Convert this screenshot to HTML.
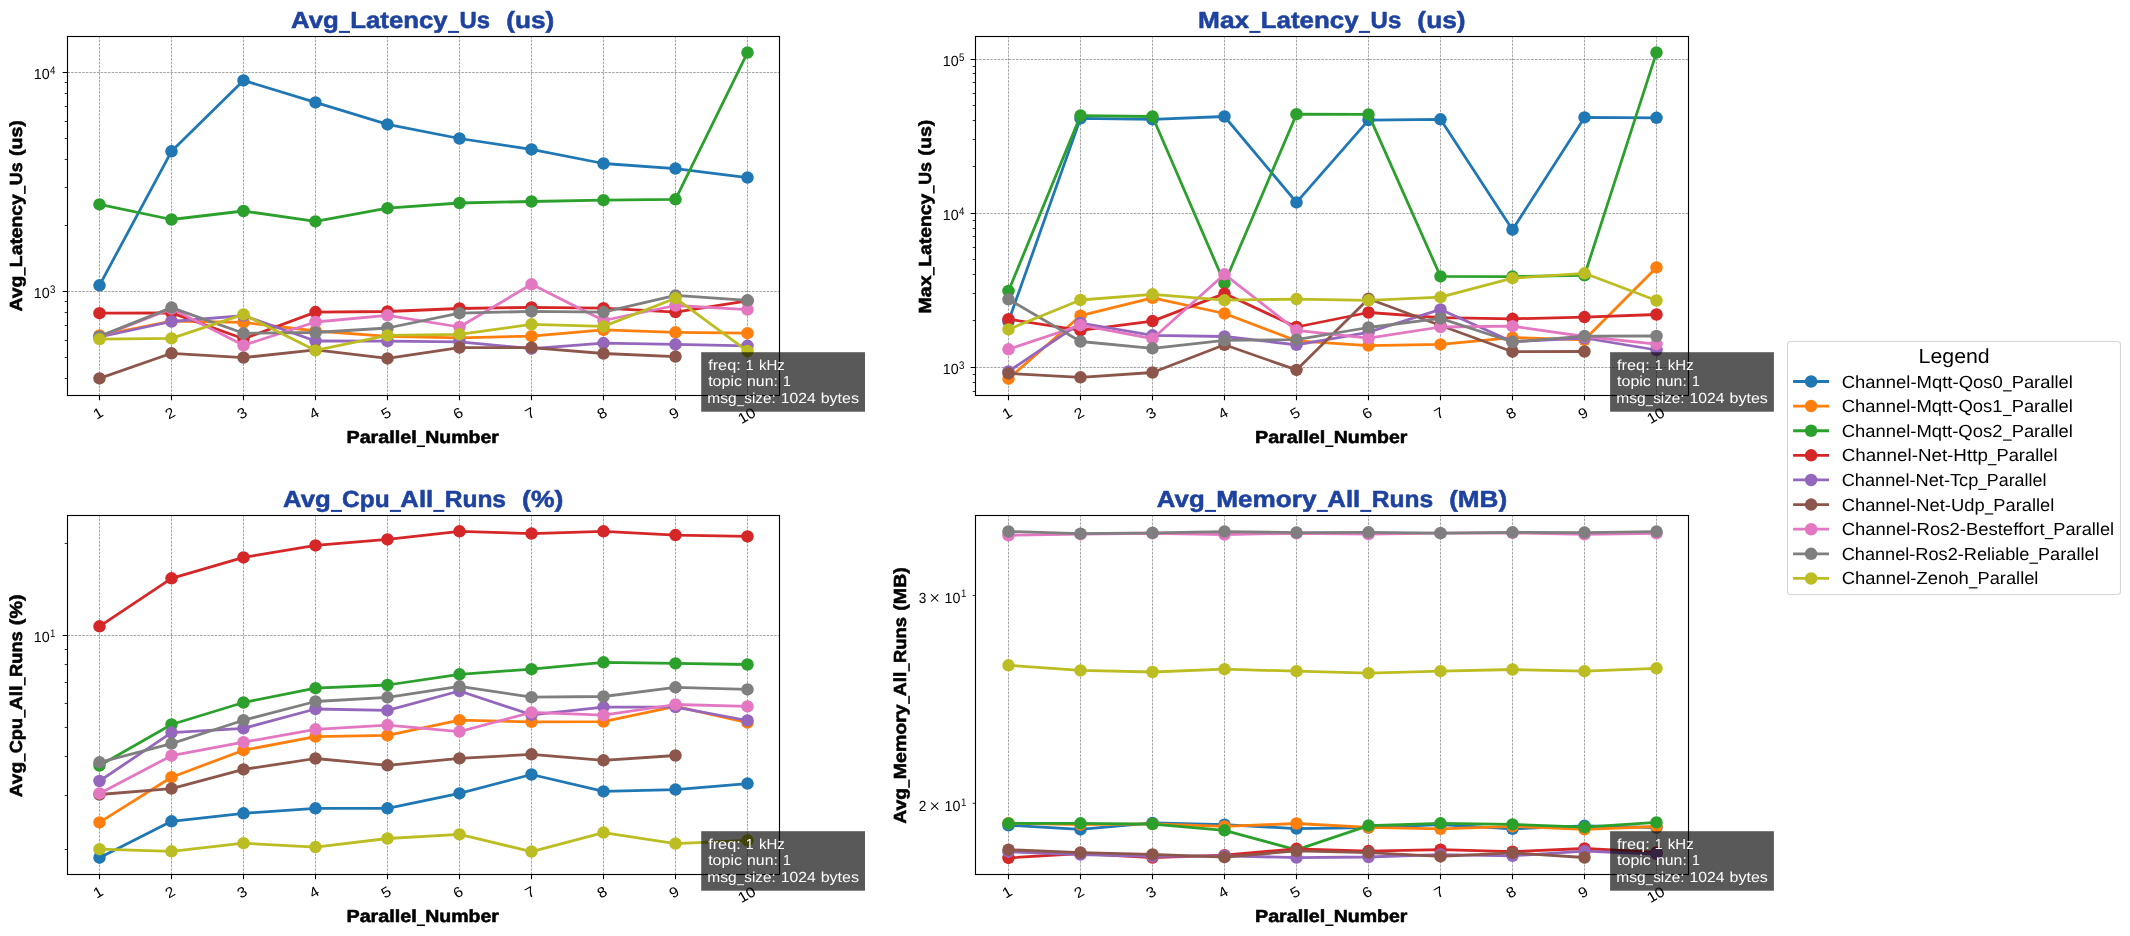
<!DOCTYPE html>
<html lang="en"><head><meta charset="utf-8"><title>Benchmark charts</title>
<style>html,body{margin:0;padding:0;background:#fff;}body{width:2130px;height:936px;overflow:hidden;font-family:"Liberation Sans", sans-serif;}svg{display:block;will-change:transform;}</style></head>
<body>
<svg width="2130" height="936" viewBox="0 0 2130 936" font-family='"Liberation Sans", sans-serif' text-rendering="geometricPrecision">
<rect width="2130" height="936" fill="#fff"/>
<g>
<clipPath id="c00"><rect x="67.5" y="36.5" width="712" height="359"/></clipPath>
<path d="M99.5 395.5V36.5M171.5 395.5V36.5M243.5 395.5V36.5M315.5 395.5V36.5M387.5 395.5V36.5M459.5 395.5V36.5M531.5 395.5V36.5M603.5 395.5V36.5M675.5 395.5V36.5M747.5 395.5V36.5M67.5 72.5H779.5M67.5 291.5H779.5" stroke="#808080" stroke-width="0.7" stroke-dasharray="2.57 1.11" fill="none"/>
<path d="M99.5 395.5v4.86M171.5 395.5v4.86M243.5 395.5v4.86M315.5 395.5v4.86M387.5 395.5v4.86M459.5 395.5v4.86M531.5 395.5v4.86M603.5 395.5v4.86M675.5 395.5v4.86M747.5 395.5v4.86M67.5 72.5h-4.86M67.5 291.5h-4.86" stroke="#000" stroke-width="1.11" fill="none"/>
<path d="M67.5 378.5h-2.78M67.5 357.5h-2.78M67.5 340.5h-2.78M67.5 325.5h-2.78M67.5 312.5h-2.78M67.5 301.5h-2.78M67.5 225.5h-2.78M67.5 187.5h-2.78M67.5 159.5h-2.78M67.5 138.5h-2.78M67.5 121.5h-2.78M67.5 106.5h-2.78M67.5 93.5h-2.78M67.5 82.5h-2.78" stroke="#000" stroke-width="0.83" fill="none"/>
<text x="98" y="413.2" font-size="14.6" text-anchor="middle" textLength="8.8" lengthAdjust="spacingAndGlyphs" dy="5.1" transform="rotate(-30 98 413.2)">1</text>
<text x="170" y="413.2" font-size="14.6" text-anchor="middle" textLength="8.8" lengthAdjust="spacingAndGlyphs" dy="5.1" transform="rotate(-30 170 413.2)">2</text>
<text x="242" y="413.2" font-size="14.6" text-anchor="middle" textLength="8.8" lengthAdjust="spacingAndGlyphs" dy="5.1" transform="rotate(-30 242 413.2)">3</text>
<text x="314" y="413.2" font-size="14.6" text-anchor="middle" textLength="8.8" lengthAdjust="spacingAndGlyphs" dy="5.1" transform="rotate(-30 314 413.2)">4</text>
<text x="386" y="413.2" font-size="14.6" text-anchor="middle" textLength="8.8" lengthAdjust="spacingAndGlyphs" dy="5.1" transform="rotate(-30 386 413.2)">5</text>
<text x="458" y="413.2" font-size="14.6" text-anchor="middle" textLength="8.8" lengthAdjust="spacingAndGlyphs" dy="5.1" transform="rotate(-30 458 413.2)">6</text>
<text x="530" y="413.2" font-size="14.6" text-anchor="middle" textLength="8.8" lengthAdjust="spacingAndGlyphs" dy="5.1" transform="rotate(-30 530 413.2)">7</text>
<text x="602" y="413.2" font-size="14.6" text-anchor="middle" textLength="8.8" lengthAdjust="spacingAndGlyphs" dy="5.1" transform="rotate(-30 602 413.2)">8</text>
<text x="674" y="413.2" font-size="14.6" text-anchor="middle" textLength="8.8" lengthAdjust="spacingAndGlyphs" dy="5.1" transform="rotate(-30 674 413.2)">9</text>
<text x="746.7" y="415.5" font-size="14.6" text-anchor="middle" textLength="17.6" lengthAdjust="spacingAndGlyphs" dy="5.1" transform="rotate(-30 746.7 415.5)">10</text>
<text x="50" y="73.6" font-size="11" text-anchor="start" font-weight="normal" fill="#000" textLength="5.4" lengthAdjust="spacingAndGlyphs">4</text>
<text x="33.7" y="78.8" font-size="14.6" text-anchor="start" font-weight="normal" fill="#000" textLength="15.9" lengthAdjust="spacingAndGlyphs">10</text>
<text x="50" y="292.6" font-size="11" text-anchor="start" font-weight="normal" fill="#000" textLength="5.4" lengthAdjust="spacingAndGlyphs">3</text>
<text x="33.7" y="297.8" font-size="14.6" text-anchor="start" font-weight="normal" fill="#000" textLength="15.9" lengthAdjust="spacingAndGlyphs">10</text>
<g clip-path="url(#c00)">
<polyline points="99.5,285.3 171.5,151.3 243.5,80.4 315.5,102.4 387.5,124.4 459.5,138.5 531.5,149.4 603.5,163.5 675.5,168.6 747.5,177.6" fill="none" stroke="#1f77b4" stroke-width="2.78" stroke-linejoin="round" stroke-linecap="butt"/>
<g fill="#1f77b4"><circle cx="99.5" cy="285.3" r="6.25"/><circle cx="171.5" cy="151.3" r="6.25"/><circle cx="243.5" cy="80.4" r="6.25"/><circle cx="315.5" cy="102.4" r="6.25"/><circle cx="387.5" cy="124.4" r="6.25"/><circle cx="459.5" cy="138.5" r="6.25"/><circle cx="531.5" cy="149.4" r="6.25"/><circle cx="603.5" cy="163.5" r="6.25"/><circle cx="675.5" cy="168.6" r="6.25"/><circle cx="747.5" cy="177.6" r="6.25"/></g>
<polyline points="99.5,335.5 171.5,321.1 243.5,322.4 315.5,331 387.5,336.4 459.5,337.8 531.5,336.2 603.5,329.9 675.5,332.3 747.5,333.2" fill="none" stroke="#ff7f0e" stroke-width="2.78" stroke-linejoin="round" stroke-linecap="butt"/>
<g fill="#ff7f0e"><circle cx="99.5" cy="335.5" r="6.25"/><circle cx="171.5" cy="321.1" r="6.25"/><circle cx="243.5" cy="322.4" r="6.25"/><circle cx="315.5" cy="331" r="6.25"/><circle cx="387.5" cy="336.4" r="6.25"/><circle cx="459.5" cy="337.8" r="6.25"/><circle cx="531.5" cy="336.2" r="6.25"/><circle cx="603.5" cy="329.9" r="6.25"/><circle cx="675.5" cy="332.3" r="6.25"/><circle cx="747.5" cy="333.2" r="6.25"/></g>
<polyline points="99.5,204.4 171.5,219.5 243.5,211 315.5,221.4 387.5,208.2 459.5,203 531.5,201.5 603.5,200.2 675.5,199.3 747.5,52.6" fill="none" stroke="#2ca02c" stroke-width="2.78" stroke-linejoin="round" stroke-linecap="butt"/>
<g fill="#2ca02c"><circle cx="99.5" cy="204.4" r="6.25"/><circle cx="171.5" cy="219.5" r="6.25"/><circle cx="243.5" cy="211" r="6.25"/><circle cx="315.5" cy="221.4" r="6.25"/><circle cx="387.5" cy="208.2" r="6.25"/><circle cx="459.5" cy="203" r="6.25"/><circle cx="531.5" cy="201.5" r="6.25"/><circle cx="603.5" cy="200.2" r="6.25"/><circle cx="675.5" cy="199.3" r="6.25"/><circle cx="747.5" cy="52.6" r="6.25"/></g>
<polyline points="99.5,313.2 171.5,312.9 243.5,338.8 315.5,312.1 387.5,311.5 459.5,308.5 531.5,307.4 603.5,308.2 675.5,312.1 747.5,300.8" fill="none" stroke="#d62728" stroke-width="2.78" stroke-linejoin="round" stroke-linecap="butt"/>
<g fill="#d62728"><circle cx="99.5" cy="313.2" r="6.25"/><circle cx="171.5" cy="312.9" r="6.25"/><circle cx="243.5" cy="338.8" r="6.25"/><circle cx="315.5" cy="312.1" r="6.25"/><circle cx="387.5" cy="311.5" r="6.25"/><circle cx="459.5" cy="308.5" r="6.25"/><circle cx="531.5" cy="307.4" r="6.25"/><circle cx="603.5" cy="308.2" r="6.25"/><circle cx="675.5" cy="312.1" r="6.25"/><circle cx="747.5" cy="300.8" r="6.25"/></g>
<polyline points="99.5,337 171.5,321.5 243.5,315.6 315.5,341 387.5,341.2 459.5,341.8 531.5,348.7 603.5,343.1 675.5,344.3 747.5,345.8" fill="none" stroke="#9467bd" stroke-width="2.78" stroke-linejoin="round" stroke-linecap="butt"/>
<g fill="#9467bd"><circle cx="99.5" cy="337" r="6.25"/><circle cx="171.5" cy="321.5" r="6.25"/><circle cx="243.5" cy="315.6" r="6.25"/><circle cx="315.5" cy="341" r="6.25"/><circle cx="387.5" cy="341.2" r="6.25"/><circle cx="459.5" cy="341.8" r="6.25"/><circle cx="531.5" cy="348.7" r="6.25"/><circle cx="603.5" cy="343.1" r="6.25"/><circle cx="675.5" cy="344.3" r="6.25"/><circle cx="747.5" cy="345.8" r="6.25"/></g>
<polyline points="99.5,378.4 171.5,353.3 243.5,357.6 315.5,349.9 387.5,358.4 459.5,347.6 531.5,347.6 603.5,353.5 675.5,356.6" fill="none" stroke="#8c564b" stroke-width="2.78" stroke-linejoin="round" stroke-linecap="butt"/>
<g fill="#8c564b"><circle cx="99.5" cy="378.4" r="6.25"/><circle cx="171.5" cy="353.3" r="6.25"/><circle cx="243.5" cy="357.6" r="6.25"/><circle cx="315.5" cy="349.9" r="6.25"/><circle cx="387.5" cy="358.4" r="6.25"/><circle cx="459.5" cy="347.6" r="6.25"/><circle cx="531.5" cy="347.6" r="6.25"/><circle cx="603.5" cy="353.5" r="6.25"/><circle cx="675.5" cy="356.6" r="6.25"/></g>
<polyline points="99.5,337 171.5,308.6 243.5,345.3 315.5,322 387.5,315.3 459.5,327 531.5,284.3 603.5,320.5 675.5,305.5 747.5,309.6" fill="none" stroke="#e377c2" stroke-width="2.78" stroke-linejoin="round" stroke-linecap="butt"/>
<g fill="#e377c2"><circle cx="99.5" cy="337" r="6.25"/><circle cx="171.5" cy="308.6" r="6.25"/><circle cx="243.5" cy="345.3" r="6.25"/><circle cx="315.5" cy="322" r="6.25"/><circle cx="387.5" cy="315.3" r="6.25"/><circle cx="459.5" cy="327" r="6.25"/><circle cx="531.5" cy="284.3" r="6.25"/><circle cx="603.5" cy="320.5" r="6.25"/><circle cx="675.5" cy="305.5" r="6.25"/><circle cx="747.5" cy="309.6" r="6.25"/></g>
<polyline points="99.5,336.4 171.5,307.6 243.5,333.3 315.5,332.5 387.5,328 459.5,313.2 531.5,311.4 603.5,312.1 675.5,295.4 747.5,300.3" fill="none" stroke="#7f7f7f" stroke-width="2.78" stroke-linejoin="round" stroke-linecap="butt"/>
<g fill="#7f7f7f"><circle cx="99.5" cy="336.4" r="6.25"/><circle cx="171.5" cy="307.6" r="6.25"/><circle cx="243.5" cy="333.3" r="6.25"/><circle cx="315.5" cy="332.5" r="6.25"/><circle cx="387.5" cy="328" r="6.25"/><circle cx="459.5" cy="313.2" r="6.25"/><circle cx="531.5" cy="311.4" r="6.25"/><circle cx="603.5" cy="312.1" r="6.25"/><circle cx="675.5" cy="295.4" r="6.25"/><circle cx="747.5" cy="300.3" r="6.25"/></g>
<polyline points="99.5,339.2 171.5,338.4 243.5,314.4 315.5,350.4 387.5,335.4 459.5,334.3 531.5,324.3 603.5,326.4 675.5,298.2 747.5,351.1" fill="none" stroke="#bcbd22" stroke-width="2.78" stroke-linejoin="round" stroke-linecap="butt"/>
<g fill="#bcbd22"><circle cx="99.5" cy="339.2" r="6.25"/><circle cx="171.5" cy="338.4" r="6.25"/><circle cx="243.5" cy="314.4" r="6.25"/><circle cx="315.5" cy="350.4" r="6.25"/><circle cx="387.5" cy="335.4" r="6.25"/><circle cx="459.5" cy="334.3" r="6.25"/><circle cx="531.5" cy="324.3" r="6.25"/><circle cx="603.5" cy="326.4" r="6.25"/><circle cx="675.5" cy="298.2" r="6.25"/><circle cx="747.5" cy="351.1" r="6.25"/></g>
</g>
<rect x="67.5" y="36.5" width="712" height="359" fill="none" stroke="#000" stroke-width="1.11"/>
<rect x="338.91" y="30.88" width="11.07" height="2.06" fill="#1e429f"/><rect x="447.97" y="30.88" width="11.07" height="2.06" fill="#1e429f"/><g font-size="23.33" font-weight="bold" fill="#1e429f" stroke="#1e429f" stroke-width="0.55" stroke-linejoin="round"><text x="290.97" y="27.7" textLength="47.78" lengthAdjust="spacingAndGlyphs">Avg</text><text x="350.29" y="27.7" textLength="97.41" lengthAdjust="spacingAndGlyphs">Latency</text><text x="459.64" y="27.7" textLength="30.49" lengthAdjust="spacingAndGlyphs">Us</text><text x="506.22" y="27.7" textLength="47.99" lengthAdjust="spacingAndGlyphs">(us)</text></g>
<rect x="416.74" y="445.48" width="8.23" height="1.55" fill="#000"/><g font-size="17.5" font-weight="bold" fill="#000" stroke="#000" stroke-width="0.55" stroke-linejoin="round"><text x="346.48" y="443.1" textLength="70.28" lengthAdjust="spacingAndGlyphs">Parallel</text><text x="425.18" y="443.1" textLength="73.72" lengthAdjust="spacingAndGlyphs">Number</text></g>
<g transform="translate(21.7 311.1) rotate(-90)"><rect x="35.45" y="2.38" width="8.3" height="1.55" fill="#000"/><rect x="117.16" y="2.38" width="8.3" height="1.55" fill="#000"/><g font-size="17.5" font-weight="bold" fill="#000" stroke="#000" stroke-width="0.55" stroke-linejoin="round"><text x="-0.47" y="0" textLength="35.8" lengthAdjust="spacingAndGlyphs">Avg</text><text x="43.98" y="0" textLength="72.98" lengthAdjust="spacingAndGlyphs">Latency</text><text x="125.9" y="0" textLength="22.84" lengthAdjust="spacingAndGlyphs">Us</text><text x="155.02" y="0" textLength="35.95" lengthAdjust="spacingAndGlyphs">(us)</text></g></g>
</g>
<g>
<clipPath id="c10"><rect x="975.5" y="36.5" width="713" height="359"/></clipPath>
<path d="M1008.5 395.5V36.5M1080.5 395.5V36.5M1152.5 395.5V36.5M1224.5 395.5V36.5M1296.5 395.5V36.5M1368.5 395.5V36.5M1440.5 395.5V36.5M1512.5 395.5V36.5M1584.5 395.5V36.5M1656.5 395.5V36.5M975.5 59.5H1688.5M975.5 213.5H1688.5M975.5 367.5H1688.5" stroke="#808080" stroke-width="0.7" stroke-dasharray="2.57 1.11" fill="none"/>
<path d="M1008.5 395.5v4.86M1080.5 395.5v4.86M1152.5 395.5v4.86M1224.5 395.5v4.86M1296.5 395.5v4.86M1368.5 395.5v4.86M1440.5 395.5v4.86M1512.5 395.5v4.86M1584.5 395.5v4.86M1656.5 395.5v4.86M975.5 59.5h-4.86M975.5 213.5h-4.86M975.5 367.5h-4.86" stroke="#000" stroke-width="1.11" fill="none"/>
<path d="M975.5 391.5h-2.78M975.5 382.5h-2.78M975.5 374.5h-2.78M975.5 320.5h-2.78M975.5 293.5h-2.78M975.5 274.5h-2.78M975.5 259.5h-2.78M975.5 247.5h-2.78M975.5 236.5h-2.78M975.5 228.5h-2.78M975.5 220.5h-2.78M975.5 166.5h-2.78M975.5 139.5h-2.78M975.5 120.5h-2.78M975.5 105.5h-2.78M975.5 93.5h-2.78M975.5 82.5h-2.78M975.5 73.5h-2.78M975.5 66.5h-2.78" stroke="#000" stroke-width="0.83" fill="none"/>
<text x="1007" y="413.2" font-size="14.6" text-anchor="middle" textLength="8.8" lengthAdjust="spacingAndGlyphs" dy="5.1" transform="rotate(-30 1007 413.2)">1</text>
<text x="1079" y="413.2" font-size="14.6" text-anchor="middle" textLength="8.8" lengthAdjust="spacingAndGlyphs" dy="5.1" transform="rotate(-30 1079 413.2)">2</text>
<text x="1151" y="413.2" font-size="14.6" text-anchor="middle" textLength="8.8" lengthAdjust="spacingAndGlyphs" dy="5.1" transform="rotate(-30 1151 413.2)">3</text>
<text x="1223" y="413.2" font-size="14.6" text-anchor="middle" textLength="8.8" lengthAdjust="spacingAndGlyphs" dy="5.1" transform="rotate(-30 1223 413.2)">4</text>
<text x="1295" y="413.2" font-size="14.6" text-anchor="middle" textLength="8.8" lengthAdjust="spacingAndGlyphs" dy="5.1" transform="rotate(-30 1295 413.2)">5</text>
<text x="1367" y="413.2" font-size="14.6" text-anchor="middle" textLength="8.8" lengthAdjust="spacingAndGlyphs" dy="5.1" transform="rotate(-30 1367 413.2)">6</text>
<text x="1439" y="413.2" font-size="14.6" text-anchor="middle" textLength="8.8" lengthAdjust="spacingAndGlyphs" dy="5.1" transform="rotate(-30 1439 413.2)">7</text>
<text x="1511" y="413.2" font-size="14.6" text-anchor="middle" textLength="8.8" lengthAdjust="spacingAndGlyphs" dy="5.1" transform="rotate(-30 1511 413.2)">8</text>
<text x="1583" y="413.2" font-size="14.6" text-anchor="middle" textLength="8.8" lengthAdjust="spacingAndGlyphs" dy="5.1" transform="rotate(-30 1583 413.2)">9</text>
<text x="1655.7" y="415.5" font-size="14.6" text-anchor="middle" textLength="17.6" lengthAdjust="spacingAndGlyphs" dy="5.1" transform="rotate(-30 1655.7 415.5)">10</text>
<text x="959" y="60.6" font-size="11" text-anchor="start" font-weight="normal" fill="#000" textLength="5.4" lengthAdjust="spacingAndGlyphs">5</text>
<text x="942.7" y="65.8" font-size="14.6" text-anchor="start" font-weight="normal" fill="#000" textLength="15.9" lengthAdjust="spacingAndGlyphs">10</text>
<text x="959" y="214.6" font-size="11" text-anchor="start" font-weight="normal" fill="#000" textLength="5.4" lengthAdjust="spacingAndGlyphs">4</text>
<text x="942.7" y="219.8" font-size="14.6" text-anchor="start" font-weight="normal" fill="#000" textLength="15.9" lengthAdjust="spacingAndGlyphs">10</text>
<text x="959" y="368.6" font-size="11" text-anchor="start" font-weight="normal" fill="#000" textLength="5.4" lengthAdjust="spacingAndGlyphs">3</text>
<text x="942.7" y="373.8" font-size="14.6" text-anchor="start" font-weight="normal" fill="#000" textLength="15.9" lengthAdjust="spacingAndGlyphs">10</text>
<g clip-path="url(#c10)">
<polyline points="1008.5,321.3 1080.5,118.4 1152.5,119.3 1224.5,116.5 1296.5,202.4 1368.5,120.1 1440.5,119.3 1512.5,229.7 1584.5,117.4 1656.5,117.8" fill="none" stroke="#1f77b4" stroke-width="2.78" stroke-linejoin="round" stroke-linecap="butt"/>
<g fill="#1f77b4"><circle cx="1008.5" cy="321.3" r="6.25"/><circle cx="1080.5" cy="118.4" r="6.25"/><circle cx="1152.5" cy="119.3" r="6.25"/><circle cx="1224.5" cy="116.5" r="6.25"/><circle cx="1296.5" cy="202.4" r="6.25"/><circle cx="1368.5" cy="120.1" r="6.25"/><circle cx="1440.5" cy="119.3" r="6.25"/><circle cx="1512.5" cy="229.7" r="6.25"/><circle cx="1584.5" cy="117.4" r="6.25"/><circle cx="1656.5" cy="117.8" r="6.25"/></g>
<polyline points="1008.5,378.7 1080.5,315.7 1152.5,297.8 1224.5,313.5 1296.5,340.8 1368.5,345.6 1440.5,344.4 1512.5,337.6 1584.5,339.8 1656.5,267.4" fill="none" stroke="#ff7f0e" stroke-width="2.78" stroke-linejoin="round" stroke-linecap="butt"/>
<g fill="#ff7f0e"><circle cx="1008.5" cy="378.7" r="6.25"/><circle cx="1080.5" cy="315.7" r="6.25"/><circle cx="1152.5" cy="297.8" r="6.25"/><circle cx="1224.5" cy="313.5" r="6.25"/><circle cx="1296.5" cy="340.8" r="6.25"/><circle cx="1368.5" cy="345.6" r="6.25"/><circle cx="1440.5" cy="344.4" r="6.25"/><circle cx="1512.5" cy="337.6" r="6.25"/><circle cx="1584.5" cy="339.8" r="6.25"/><circle cx="1656.5" cy="267.4" r="6.25"/></g>
<polyline points="1008.5,291 1080.5,115.6 1152.5,116.5 1224.5,283.2 1296.5,114.2 1368.5,114.4 1440.5,276.4 1512.5,276.6 1584.5,275.3 1656.5,52.6" fill="none" stroke="#2ca02c" stroke-width="2.78" stroke-linejoin="round" stroke-linecap="butt"/>
<g fill="#2ca02c"><circle cx="1008.5" cy="291" r="6.25"/><circle cx="1080.5" cy="115.6" r="6.25"/><circle cx="1152.5" cy="116.5" r="6.25"/><circle cx="1224.5" cy="283.2" r="6.25"/><circle cx="1296.5" cy="114.2" r="6.25"/><circle cx="1368.5" cy="114.4" r="6.25"/><circle cx="1440.5" cy="276.4" r="6.25"/><circle cx="1512.5" cy="276.6" r="6.25"/><circle cx="1584.5" cy="275.3" r="6.25"/><circle cx="1656.5" cy="52.6" r="6.25"/></g>
<polyline points="1008.5,319.2 1080.5,330.3 1152.5,321.1 1224.5,293.6 1296.5,327 1368.5,312.5 1440.5,317.6 1512.5,318.8 1584.5,317.1 1656.5,314.5" fill="none" stroke="#d62728" stroke-width="2.78" stroke-linejoin="round" stroke-linecap="butt"/>
<g fill="#d62728"><circle cx="1008.5" cy="319.2" r="6.25"/><circle cx="1080.5" cy="330.3" r="6.25"/><circle cx="1152.5" cy="321.1" r="6.25"/><circle cx="1224.5" cy="293.6" r="6.25"/><circle cx="1296.5" cy="327" r="6.25"/><circle cx="1368.5" cy="312.5" r="6.25"/><circle cx="1440.5" cy="317.6" r="6.25"/><circle cx="1512.5" cy="318.8" r="6.25"/><circle cx="1584.5" cy="317.1" r="6.25"/><circle cx="1656.5" cy="314.5" r="6.25"/></g>
<polyline points="1008.5,371.4 1080.5,323 1152.5,335.3 1224.5,336.5 1296.5,344.8 1368.5,332.3 1440.5,309.4 1512.5,341.7 1584.5,338 1656.5,350" fill="none" stroke="#9467bd" stroke-width="2.78" stroke-linejoin="round" stroke-linecap="butt"/>
<g fill="#9467bd"><circle cx="1008.5" cy="371.4" r="6.25"/><circle cx="1080.5" cy="323" r="6.25"/><circle cx="1152.5" cy="335.3" r="6.25"/><circle cx="1224.5" cy="336.5" r="6.25"/><circle cx="1296.5" cy="344.8" r="6.25"/><circle cx="1368.5" cy="332.3" r="6.25"/><circle cx="1440.5" cy="309.4" r="6.25"/><circle cx="1512.5" cy="341.7" r="6.25"/><circle cx="1584.5" cy="338" r="6.25"/><circle cx="1656.5" cy="350" r="6.25"/></g>
<polyline points="1008.5,373.4 1080.5,377.3 1152.5,372.5 1224.5,344.8 1296.5,369.9 1368.5,298.8 1440.5,325.5 1512.5,351.7 1584.5,351.5" fill="none" stroke="#8c564b" stroke-width="2.78" stroke-linejoin="round" stroke-linecap="butt"/>
<g fill="#8c564b"><circle cx="1008.5" cy="373.4" r="6.25"/><circle cx="1080.5" cy="377.3" r="6.25"/><circle cx="1152.5" cy="372.5" r="6.25"/><circle cx="1224.5" cy="344.8" r="6.25"/><circle cx="1296.5" cy="369.9" r="6.25"/><circle cx="1368.5" cy="298.8" r="6.25"/><circle cx="1440.5" cy="325.5" r="6.25"/><circle cx="1512.5" cy="351.7" r="6.25"/><circle cx="1584.5" cy="351.5" r="6.25"/></g>
<polyline points="1008.5,349.3 1080.5,325.2 1152.5,338.7 1224.5,274.3 1296.5,330.3 1368.5,338.2 1440.5,327 1512.5,326.2 1584.5,336.5 1656.5,344.1" fill="none" stroke="#e377c2" stroke-width="2.78" stroke-linejoin="round" stroke-linecap="butt"/>
<g fill="#e377c2"><circle cx="1008.5" cy="349.3" r="6.25"/><circle cx="1080.5" cy="325.2" r="6.25"/><circle cx="1152.5" cy="338.7" r="6.25"/><circle cx="1224.5" cy="274.3" r="6.25"/><circle cx="1296.5" cy="330.3" r="6.25"/><circle cx="1368.5" cy="338.2" r="6.25"/><circle cx="1440.5" cy="327" r="6.25"/><circle cx="1512.5" cy="326.2" r="6.25"/><circle cx="1584.5" cy="336.5" r="6.25"/><circle cx="1656.5" cy="344.1" r="6.25"/></g>
<polyline points="1008.5,299.3 1080.5,341.5 1152.5,348.3 1224.5,340.3 1296.5,339.7 1368.5,327.5 1440.5,318.4 1512.5,342 1584.5,336.1 1656.5,336" fill="none" stroke="#7f7f7f" stroke-width="2.78" stroke-linejoin="round" stroke-linecap="butt"/>
<g fill="#7f7f7f"><circle cx="1008.5" cy="299.3" r="6.25"/><circle cx="1080.5" cy="341.5" r="6.25"/><circle cx="1152.5" cy="348.3" r="6.25"/><circle cx="1224.5" cy="340.3" r="6.25"/><circle cx="1296.5" cy="339.7" r="6.25"/><circle cx="1368.5" cy="327.5" r="6.25"/><circle cx="1440.5" cy="318.4" r="6.25"/><circle cx="1512.5" cy="342" r="6.25"/><circle cx="1584.5" cy="336.1" r="6.25"/><circle cx="1656.5" cy="336" r="6.25"/></g>
<polyline points="1008.5,329.4 1080.5,300 1152.5,294.3 1224.5,300.2 1296.5,299.1 1368.5,300.3 1440.5,297.2 1512.5,278.2 1584.5,273.3 1656.5,300.5" fill="none" stroke="#bcbd22" stroke-width="2.78" stroke-linejoin="round" stroke-linecap="butt"/>
<g fill="#bcbd22"><circle cx="1008.5" cy="329.4" r="6.25"/><circle cx="1080.5" cy="300" r="6.25"/><circle cx="1152.5" cy="294.3" r="6.25"/><circle cx="1224.5" cy="300.2" r="6.25"/><circle cx="1296.5" cy="299.1" r="6.25"/><circle cx="1368.5" cy="300.3" r="6.25"/><circle cx="1440.5" cy="297.2" r="6.25"/><circle cx="1512.5" cy="278.2" r="6.25"/><circle cx="1584.5" cy="273.3" r="6.25"/><circle cx="1656.5" cy="300.5" r="6.25"/></g>
</g>
<rect x="975.5" y="36.5" width="713" height="359" fill="none" stroke="#000" stroke-width="1.11"/>
<rect x="1249.27" y="30.88" width="11.13" height="2.06" fill="#1e429f"/><rect x="1358.85" y="30.88" width="11.13" height="2.06" fill="#1e429f"/><g font-size="23.33" font-weight="bold" fill="#1e429f" stroke="#1e429f" stroke-width="0.55" stroke-linejoin="round"><text x="1198.04" y="27.7" textLength="51.08" lengthAdjust="spacingAndGlyphs">Max</text><text x="1260.7" y="27.7" textLength="97.89" lengthAdjust="spacingAndGlyphs">Latency</text><text x="1370.58" y="27.7" textLength="30.64" lengthAdjust="spacingAndGlyphs">Us</text><text x="1417.39" y="27.7" textLength="48.22" lengthAdjust="spacingAndGlyphs">(us)</text></g>
<rect x="1325.24" y="445.48" width="8.23" height="1.55" fill="#000"/><g font-size="17.5" font-weight="bold" fill="#000" stroke="#000" stroke-width="0.55" stroke-linejoin="round"><text x="1254.98" y="443.1" textLength="70.28" lengthAdjust="spacingAndGlyphs">Parallel</text><text x="1333.68" y="443.1" textLength="73.72" lengthAdjust="spacingAndGlyphs">Number</text></g>
<g transform="translate(930.7 312.3) rotate(-90)"><rect x="36.93" y="2.38" width="8.31" height="1.55" fill="#000"/><rect x="118.75" y="2.38" width="8.31" height="1.55" fill="#000"/><g font-size="17.5" font-weight="bold" fill="#000" stroke="#000" stroke-width="0.55" stroke-linejoin="round"><text x="-1.31" y="0" textLength="38.14" lengthAdjust="spacingAndGlyphs">Max</text><text x="45.47" y="0" textLength="73.09" lengthAdjust="spacingAndGlyphs">Latency</text><text x="127.51" y="0" textLength="22.88" lengthAdjust="spacingAndGlyphs">Us</text><text x="156.67" y="0" textLength="36" lengthAdjust="spacingAndGlyphs">(us)</text></g></g>
</g>
<g>
<clipPath id="c01"><rect x="67.5" y="515.5" width="712" height="359"/></clipPath>
<path d="M99.5 874.5V515.5M171.5 874.5V515.5M243.5 874.5V515.5M315.5 874.5V515.5M387.5 874.5V515.5M459.5 874.5V515.5M531.5 874.5V515.5M603.5 874.5V515.5M675.5 874.5V515.5M747.5 874.5V515.5M67.5 635.5H779.5" stroke="#808080" stroke-width="0.7" stroke-dasharray="2.57 1.11" fill="none"/>
<path d="M99.5 874.5v4.86M171.5 874.5v4.86M243.5 874.5v4.86M315.5 874.5v4.86M387.5 874.5v4.86M459.5 874.5v4.86M531.5 874.5v4.86M603.5 874.5v4.86M675.5 874.5v4.86M747.5 874.5v4.86M67.5 635.5h-4.86" stroke="#000" stroke-width="1.11" fill="none"/>
<path d="M67.5 849.5h-2.78M67.5 795.5h-2.78M67.5 756.5h-2.78M67.5 727.5h-2.78M67.5 703.5h-2.78M67.5 682.5h-2.78M67.5 664.5h-2.78M67.5 649.5h-2.78M67.5 543.5h-2.78" stroke="#000" stroke-width="0.83" fill="none"/>
<text x="98" y="892.2" font-size="14.6" text-anchor="middle" textLength="8.8" lengthAdjust="spacingAndGlyphs" dy="5.1" transform="rotate(-30 98 892.2)">1</text>
<text x="170" y="892.2" font-size="14.6" text-anchor="middle" textLength="8.8" lengthAdjust="spacingAndGlyphs" dy="5.1" transform="rotate(-30 170 892.2)">2</text>
<text x="242" y="892.2" font-size="14.6" text-anchor="middle" textLength="8.8" lengthAdjust="spacingAndGlyphs" dy="5.1" transform="rotate(-30 242 892.2)">3</text>
<text x="314" y="892.2" font-size="14.6" text-anchor="middle" textLength="8.8" lengthAdjust="spacingAndGlyphs" dy="5.1" transform="rotate(-30 314 892.2)">4</text>
<text x="386" y="892.2" font-size="14.6" text-anchor="middle" textLength="8.8" lengthAdjust="spacingAndGlyphs" dy="5.1" transform="rotate(-30 386 892.2)">5</text>
<text x="458" y="892.2" font-size="14.6" text-anchor="middle" textLength="8.8" lengthAdjust="spacingAndGlyphs" dy="5.1" transform="rotate(-30 458 892.2)">6</text>
<text x="530" y="892.2" font-size="14.6" text-anchor="middle" textLength="8.8" lengthAdjust="spacingAndGlyphs" dy="5.1" transform="rotate(-30 530 892.2)">7</text>
<text x="602" y="892.2" font-size="14.6" text-anchor="middle" textLength="8.8" lengthAdjust="spacingAndGlyphs" dy="5.1" transform="rotate(-30 602 892.2)">8</text>
<text x="674" y="892.2" font-size="14.6" text-anchor="middle" textLength="8.8" lengthAdjust="spacingAndGlyphs" dy="5.1" transform="rotate(-30 674 892.2)">9</text>
<text x="746.7" y="894.5" font-size="14.6" text-anchor="middle" textLength="17.6" lengthAdjust="spacingAndGlyphs" dy="5.1" transform="rotate(-30 746.7 894.5)">10</text>
<text x="50" y="636.6" font-size="11" text-anchor="start" font-weight="normal" fill="#000" textLength="5.4" lengthAdjust="spacingAndGlyphs">1</text>
<text x="33.7" y="641.8" font-size="14.6" text-anchor="start" font-weight="normal" fill="#000" textLength="15.9" lengthAdjust="spacingAndGlyphs">10</text>
<g clip-path="url(#c01)">
<polyline points="99.5,857.7 171.5,821.3 243.5,813.3 315.5,808.3 387.5,808.3 459.5,793.4 531.5,774.5 603.5,791.4 675.5,789.6 747.5,783.6" fill="none" stroke="#1f77b4" stroke-width="2.78" stroke-linejoin="round" stroke-linecap="butt"/>
<g fill="#1f77b4"><circle cx="99.5" cy="857.7" r="6.25"/><circle cx="171.5" cy="821.3" r="6.25"/><circle cx="243.5" cy="813.3" r="6.25"/><circle cx="315.5" cy="808.3" r="6.25"/><circle cx="387.5" cy="808.3" r="6.25"/><circle cx="459.5" cy="793.4" r="6.25"/><circle cx="531.5" cy="774.5" r="6.25"/><circle cx="603.5" cy="791.4" r="6.25"/><circle cx="675.5" cy="789.6" r="6.25"/><circle cx="747.5" cy="783.6" r="6.25"/></g>
<polyline points="99.5,822.4 171.5,777.2 243.5,750.2 315.5,736.6 387.5,735.4 459.5,720.2 531.5,721.8 603.5,721.6 675.5,706.4 747.5,722.6" fill="none" stroke="#ff7f0e" stroke-width="2.78" stroke-linejoin="round" stroke-linecap="butt"/>
<g fill="#ff7f0e"><circle cx="99.5" cy="822.4" r="6.25"/><circle cx="171.5" cy="777.2" r="6.25"/><circle cx="243.5" cy="750.2" r="6.25"/><circle cx="315.5" cy="736.6" r="6.25"/><circle cx="387.5" cy="735.4" r="6.25"/><circle cx="459.5" cy="720.2" r="6.25"/><circle cx="531.5" cy="721.8" r="6.25"/><circle cx="603.5" cy="721.6" r="6.25"/><circle cx="675.5" cy="706.4" r="6.25"/><circle cx="747.5" cy="722.6" r="6.25"/></g>
<polyline points="99.5,765.6 171.5,724.5 243.5,702.5 315.5,688.2 387.5,685 459.5,674.3 531.5,669.2 603.5,662.3 675.5,663.4 747.5,664.5" fill="none" stroke="#2ca02c" stroke-width="2.78" stroke-linejoin="round" stroke-linecap="butt"/>
<g fill="#2ca02c"><circle cx="99.5" cy="765.6" r="6.25"/><circle cx="171.5" cy="724.5" r="6.25"/><circle cx="243.5" cy="702.5" r="6.25"/><circle cx="315.5" cy="688.2" r="6.25"/><circle cx="387.5" cy="685" r="6.25"/><circle cx="459.5" cy="674.3" r="6.25"/><circle cx="531.5" cy="669.2" r="6.25"/><circle cx="603.5" cy="662.3" r="6.25"/><circle cx="675.5" cy="663.4" r="6.25"/><circle cx="747.5" cy="664.5" r="6.25"/></g>
<polyline points="99.5,626.3 171.5,578.3 243.5,557.4 315.5,545.4 387.5,539.4 459.5,531.3 531.5,533.6 603.5,531.3 675.5,535.1 747.5,536.4" fill="none" stroke="#d62728" stroke-width="2.78" stroke-linejoin="round" stroke-linecap="butt"/>
<g fill="#d62728"><circle cx="99.5" cy="626.3" r="6.25"/><circle cx="171.5" cy="578.3" r="6.25"/><circle cx="243.5" cy="557.4" r="6.25"/><circle cx="315.5" cy="545.4" r="6.25"/><circle cx="387.5" cy="539.4" r="6.25"/><circle cx="459.5" cy="531.3" r="6.25"/><circle cx="531.5" cy="533.6" r="6.25"/><circle cx="603.5" cy="531.3" r="6.25"/><circle cx="675.5" cy="535.1" r="6.25"/><circle cx="747.5" cy="536.4" r="6.25"/></g>
<polyline points="99.5,781 171.5,732.6 243.5,728.3 315.5,709 387.5,710.4 459.5,691 531.5,714.8 603.5,707.1 675.5,707.1 747.5,720.5" fill="none" stroke="#9467bd" stroke-width="2.78" stroke-linejoin="round" stroke-linecap="butt"/>
<g fill="#9467bd"><circle cx="99.5" cy="781" r="6.25"/><circle cx="171.5" cy="732.6" r="6.25"/><circle cx="243.5" cy="728.3" r="6.25"/><circle cx="315.5" cy="709" r="6.25"/><circle cx="387.5" cy="710.4" r="6.25"/><circle cx="459.5" cy="691" r="6.25"/><circle cx="531.5" cy="714.8" r="6.25"/><circle cx="603.5" cy="707.1" r="6.25"/><circle cx="675.5" cy="707.1" r="6.25"/><circle cx="747.5" cy="720.5" r="6.25"/></g>
<polyline points="99.5,794.5 171.5,788.6 243.5,769.4 315.5,758.5 387.5,765.3 459.5,758.4 531.5,754.3 603.5,760.3 675.5,755.5" fill="none" stroke="#8c564b" stroke-width="2.78" stroke-linejoin="round" stroke-linecap="butt"/>
<g fill="#8c564b"><circle cx="99.5" cy="794.5" r="6.25"/><circle cx="171.5" cy="788.6" r="6.25"/><circle cx="243.5" cy="769.4" r="6.25"/><circle cx="315.5" cy="758.5" r="6.25"/><circle cx="387.5" cy="765.3" r="6.25"/><circle cx="459.5" cy="758.4" r="6.25"/><circle cx="531.5" cy="754.3" r="6.25"/><circle cx="603.5" cy="760.3" r="6.25"/><circle cx="675.5" cy="755.5" r="6.25"/></g>
<polyline points="99.5,793.4 171.5,755.7 243.5,742.2 315.5,729.3 387.5,725.1 459.5,731.6 531.5,712.4 603.5,715.2 675.5,704.5 747.5,706.4" fill="none" stroke="#e377c2" stroke-width="2.78" stroke-linejoin="round" stroke-linecap="butt"/>
<g fill="#e377c2"><circle cx="99.5" cy="793.4" r="6.25"/><circle cx="171.5" cy="755.7" r="6.25"/><circle cx="243.5" cy="742.2" r="6.25"/><circle cx="315.5" cy="729.3" r="6.25"/><circle cx="387.5" cy="725.1" r="6.25"/><circle cx="459.5" cy="731.6" r="6.25"/><circle cx="531.5" cy="712.4" r="6.25"/><circle cx="603.5" cy="715.2" r="6.25"/><circle cx="675.5" cy="704.5" r="6.25"/><circle cx="747.5" cy="706.4" r="6.25"/></g>
<polyline points="99.5,762.3 171.5,743.6 243.5,720.2 315.5,701.5 387.5,697.3 459.5,686.3 531.5,697.2 603.5,696.5 675.5,687.3 747.5,689.4" fill="none" stroke="#7f7f7f" stroke-width="2.78" stroke-linejoin="round" stroke-linecap="butt"/>
<g fill="#7f7f7f"><circle cx="99.5" cy="762.3" r="6.25"/><circle cx="171.5" cy="743.6" r="6.25"/><circle cx="243.5" cy="720.2" r="6.25"/><circle cx="315.5" cy="701.5" r="6.25"/><circle cx="387.5" cy="697.3" r="6.25"/><circle cx="459.5" cy="686.3" r="6.25"/><circle cx="531.5" cy="697.2" r="6.25"/><circle cx="603.5" cy="696.5" r="6.25"/><circle cx="675.5" cy="687.3" r="6.25"/><circle cx="747.5" cy="689.4" r="6.25"/></g>
<polyline points="99.5,849.2 171.5,851.3 243.5,843.2 315.5,847.1 387.5,838.5 459.5,834.4 531.5,851.6 603.5,832.6 675.5,843.6 747.5,840.3" fill="none" stroke="#bcbd22" stroke-width="2.78" stroke-linejoin="round" stroke-linecap="butt"/>
<g fill="#bcbd22"><circle cx="99.5" cy="849.2" r="6.25"/><circle cx="171.5" cy="851.3" r="6.25"/><circle cx="243.5" cy="843.2" r="6.25"/><circle cx="315.5" cy="847.1" r="6.25"/><circle cx="387.5" cy="838.5" r="6.25"/><circle cx="459.5" cy="834.4" r="6.25"/><circle cx="531.5" cy="851.6" r="6.25"/><circle cx="603.5" cy="832.6" r="6.25"/><circle cx="675.5" cy="843.6" r="6.25"/><circle cx="747.5" cy="840.3" r="6.25"/></g>
</g>
<rect x="67.5" y="515.5" width="712" height="359" fill="none" stroke="#000" stroke-width="1.11"/>
<rect x="330.91" y="509.88" width="11.07" height="2.06" fill="#1e429f"/><rect x="389.85" y="509.88" width="11.07" height="2.06" fill="#1e429f"/><rect x="433.23" y="509.88" width="11.07" height="2.06" fill="#1e429f"/><g font-size="23.33" font-weight="bold" fill="#1e429f" stroke="#1e429f" stroke-width="0.55" stroke-linejoin="round"><text x="282.97" y="506.7" textLength="47.77" lengthAdjust="spacingAndGlyphs">Avg</text><text x="342.08" y="506.7" textLength="47.51" lengthAdjust="spacingAndGlyphs">Cpu</text><text x="400.39" y="506.7" textLength="32.81" lengthAdjust="spacingAndGlyphs">All</text><text x="444.7" y="506.7" textLength="61.32" lengthAdjust="spacingAndGlyphs">Runs</text><text x="522.06" y="506.7" textLength="41.26" lengthAdjust="spacingAndGlyphs">(%)</text></g>
<rect x="416.74" y="924.48" width="8.23" height="1.55" fill="#000"/><g font-size="17.5" font-weight="bold" fill="#000" stroke="#000" stroke-width="0.55" stroke-linejoin="round"><text x="346.48" y="922.1" textLength="70.28" lengthAdjust="spacingAndGlyphs">Parallel</text><text x="425.18" y="922.1" textLength="73.72" lengthAdjust="spacingAndGlyphs">Number</text></g>
<g transform="translate(21.7 796.8) rotate(-90)"><rect x="35.2" y="2.38" width="8.24" height="1.55" fill="#000"/><rect x="79.05" y="2.38" width="8.24" height="1.55" fill="#000"/><rect x="111.33" y="2.38" width="8.24" height="1.55" fill="#000"/><g font-size="17.5" font-weight="bold" fill="#000" stroke="#000" stroke-width="0.55" stroke-linejoin="round"><text x="-0.47" y="0" textLength="35.54" lengthAdjust="spacingAndGlyphs">Avg</text><text x="43.51" y="0" textLength="35.35" lengthAdjust="spacingAndGlyphs">Cpu</text><text x="86.89" y="0" textLength="24.41" lengthAdjust="spacingAndGlyphs">All</text><text x="119.86" y="0" textLength="45.62" lengthAdjust="spacingAndGlyphs">Runs</text><text x="171.68" y="0" textLength="30.7" lengthAdjust="spacingAndGlyphs">(%)</text></g></g>
</g>
<g>
<clipPath id="c11"><rect x="975.5" y="515.5" width="713" height="359"/></clipPath>
<path d="M1008.5 874.5V515.5M1080.5 874.5V515.5M1152.5 874.5V515.5M1224.5 874.5V515.5M1296.5 874.5V515.5M1368.5 874.5V515.5M1440.5 874.5V515.5M1512.5 874.5V515.5M1584.5 874.5V515.5M1656.5 874.5V515.5" stroke="#808080" stroke-width="0.7" stroke-dasharray="2.57 1.11" fill="none"/>
<path d="M1008.5 874.5v4.86M1080.5 874.5v4.86M1152.5 874.5v4.86M1224.5 874.5v4.86M1296.5 874.5v4.86M1368.5 874.5v4.86M1440.5 874.5v4.86M1512.5 874.5v4.86M1584.5 874.5v4.86M1656.5 874.5v4.86" stroke="#000" stroke-width="1.11" fill="none"/>
<path d="M975.5 595.5h-2.78M975.5 803.3h-2.78" stroke="#000" stroke-width="0.83" fill="none"/>
<text x="1007" y="892.2" font-size="14.6" text-anchor="middle" textLength="8.8" lengthAdjust="spacingAndGlyphs" dy="5.1" transform="rotate(-30 1007 892.2)">1</text>
<text x="1079" y="892.2" font-size="14.6" text-anchor="middle" textLength="8.8" lengthAdjust="spacingAndGlyphs" dy="5.1" transform="rotate(-30 1079 892.2)">2</text>
<text x="1151" y="892.2" font-size="14.6" text-anchor="middle" textLength="8.8" lengthAdjust="spacingAndGlyphs" dy="5.1" transform="rotate(-30 1151 892.2)">3</text>
<text x="1223" y="892.2" font-size="14.6" text-anchor="middle" textLength="8.8" lengthAdjust="spacingAndGlyphs" dy="5.1" transform="rotate(-30 1223 892.2)">4</text>
<text x="1295" y="892.2" font-size="14.6" text-anchor="middle" textLength="8.8" lengthAdjust="spacingAndGlyphs" dy="5.1" transform="rotate(-30 1295 892.2)">5</text>
<text x="1367" y="892.2" font-size="14.6" text-anchor="middle" textLength="8.8" lengthAdjust="spacingAndGlyphs" dy="5.1" transform="rotate(-30 1367 892.2)">6</text>
<text x="1439" y="892.2" font-size="14.6" text-anchor="middle" textLength="8.8" lengthAdjust="spacingAndGlyphs" dy="5.1" transform="rotate(-30 1439 892.2)">7</text>
<text x="1511" y="892.2" font-size="14.6" text-anchor="middle" textLength="8.8" lengthAdjust="spacingAndGlyphs" dy="5.1" transform="rotate(-30 1511 892.2)">8</text>
<text x="1583" y="892.2" font-size="14.6" text-anchor="middle" textLength="8.8" lengthAdjust="spacingAndGlyphs" dy="5.1" transform="rotate(-30 1583 892.2)">9</text>
<text x="1655.7" y="894.5" font-size="14.6" text-anchor="middle" textLength="17.6" lengthAdjust="spacingAndGlyphs" dy="5.1" transform="rotate(-30 1655.7 894.5)">10</text>
<text x="960.9" y="597.4" font-size="11" text-anchor="start" font-weight="normal" fill="#000" textLength="5.4" lengthAdjust="spacingAndGlyphs">1</text>
<text x="944.6" y="602.6" font-size="14.6" text-anchor="start" font-weight="normal" fill="#000" textLength="15.9" lengthAdjust="spacingAndGlyphs">10</text>
<path d="M931.1 594.3 l7.2 7.2 m0 -7.2 l-7.2 7.2" stroke="#000" stroke-width="1.05" fill="none"/>
<text x="918.8" y="602.6" font-size="14.6" text-anchor="start" font-weight="normal" fill="#000" textLength="7.6" lengthAdjust="spacingAndGlyphs">3</text>
<text x="960.9" y="805.6" font-size="11" text-anchor="start" font-weight="normal" fill="#000" textLength="5.4" lengthAdjust="spacingAndGlyphs">1</text>
<text x="944.6" y="810.8" font-size="14.6" text-anchor="start" font-weight="normal" fill="#000" textLength="15.9" lengthAdjust="spacingAndGlyphs">10</text>
<path d="M931.1 802.5 l7.2 7.2 m0 -7.2 l-7.2 7.2" stroke="#000" stroke-width="1.05" fill="none"/>
<text x="918.8" y="810.8" font-size="14.6" text-anchor="start" font-weight="normal" fill="#000" textLength="7.6" lengthAdjust="spacingAndGlyphs">2</text>
<g clip-path="url(#c11)">
<polyline points="1008.5,825.3 1080.5,829.4 1152.5,822.9 1224.5,824.7 1296.5,828.6 1368.5,827.6 1440.5,824.7 1512.5,828.8 1584.5,825.8 1656.5,827.5" fill="none" stroke="#1f77b4" stroke-width="2.78" stroke-linejoin="round" stroke-linecap="butt"/>
<g fill="#1f77b4"><circle cx="1008.5" cy="825.3" r="6.25"/><circle cx="1080.5" cy="829.4" r="6.25"/><circle cx="1152.5" cy="822.9" r="6.25"/><circle cx="1224.5" cy="824.7" r="6.25"/><circle cx="1296.5" cy="828.6" r="6.25"/><circle cx="1368.5" cy="827.6" r="6.25"/><circle cx="1440.5" cy="824.7" r="6.25"/><circle cx="1512.5" cy="828.8" r="6.25"/><circle cx="1584.5" cy="825.8" r="6.25"/><circle cx="1656.5" cy="827.5" r="6.25"/></g>
<polyline points="1008.5,823.2 1080.5,824.7 1152.5,823.9 1224.5,826.4 1296.5,823.5 1368.5,827.4 1440.5,828.8 1512.5,826.4 1584.5,829.3 1656.5,826.5" fill="none" stroke="#ff7f0e" stroke-width="2.78" stroke-linejoin="round" stroke-linecap="butt"/>
<g fill="#ff7f0e"><circle cx="1008.5" cy="823.2" r="6.25"/><circle cx="1080.5" cy="824.7" r="6.25"/><circle cx="1152.5" cy="823.9" r="6.25"/><circle cx="1224.5" cy="826.4" r="6.25"/><circle cx="1296.5" cy="823.5" r="6.25"/><circle cx="1368.5" cy="827.4" r="6.25"/><circle cx="1440.5" cy="828.8" r="6.25"/><circle cx="1512.5" cy="826.4" r="6.25"/><circle cx="1584.5" cy="829.3" r="6.25"/><circle cx="1656.5" cy="826.5" r="6.25"/></g>
<polyline points="1008.5,823.5 1080.5,823.3 1152.5,824.1 1224.5,830.3 1296.5,849.9 1368.5,825.6 1440.5,823.3 1512.5,824.4 1584.5,827.2 1656.5,822.4" fill="none" stroke="#2ca02c" stroke-width="2.78" stroke-linejoin="round" stroke-linecap="butt"/>
<g fill="#2ca02c"><circle cx="1008.5" cy="823.5" r="6.25"/><circle cx="1080.5" cy="823.3" r="6.25"/><circle cx="1152.5" cy="824.1" r="6.25"/><circle cx="1224.5" cy="830.3" r="6.25"/><circle cx="1296.5" cy="849.9" r="6.25"/><circle cx="1368.5" cy="825.6" r="6.25"/><circle cx="1440.5" cy="823.3" r="6.25"/><circle cx="1512.5" cy="824.4" r="6.25"/><circle cx="1584.5" cy="827.2" r="6.25"/><circle cx="1656.5" cy="822.4" r="6.25"/></g>
<polyline points="1008.5,857.9 1080.5,853.5 1152.5,857.6 1224.5,855.2 1296.5,848.8 1368.5,851.1 1440.5,849.7 1512.5,851.7 1584.5,848.5 1656.5,852.4" fill="none" stroke="#d62728" stroke-width="2.78" stroke-linejoin="round" stroke-linecap="butt"/>
<g fill="#d62728"><circle cx="1008.5" cy="857.9" r="6.25"/><circle cx="1080.5" cy="853.5" r="6.25"/><circle cx="1152.5" cy="857.6" r="6.25"/><circle cx="1224.5" cy="855.2" r="6.25"/><circle cx="1296.5" cy="848.8" r="6.25"/><circle cx="1368.5" cy="851.1" r="6.25"/><circle cx="1440.5" cy="849.7" r="6.25"/><circle cx="1512.5" cy="851.7" r="6.25"/><circle cx="1584.5" cy="848.5" r="6.25"/><circle cx="1656.5" cy="852.4" r="6.25"/></g>
<polyline points="1008.5,851.7 1080.5,854.6 1152.5,856.4 1224.5,855.8 1296.5,857.6 1368.5,857 1440.5,854.6 1512.5,855.8 1584.5,851.2 1656.5,854" fill="none" stroke="#9467bd" stroke-width="2.78" stroke-linejoin="round" stroke-linecap="butt"/>
<g fill="#9467bd"><circle cx="1008.5" cy="851.7" r="6.25"/><circle cx="1080.5" cy="854.6" r="6.25"/><circle cx="1152.5" cy="856.4" r="6.25"/><circle cx="1224.5" cy="855.8" r="6.25"/><circle cx="1296.5" cy="857.6" r="6.25"/><circle cx="1368.5" cy="857" r="6.25"/><circle cx="1440.5" cy="854.6" r="6.25"/><circle cx="1512.5" cy="855.8" r="6.25"/><circle cx="1584.5" cy="851.2" r="6.25"/><circle cx="1656.5" cy="854" r="6.25"/></g>
<polyline points="1008.5,849.7 1080.5,852.6 1152.5,854.4 1224.5,857.2 1296.5,850.9 1368.5,852.6 1440.5,856.4 1512.5,852.9 1584.5,857.5" fill="none" stroke="#8c564b" stroke-width="2.78" stroke-linejoin="round" stroke-linecap="butt"/>
<g fill="#8c564b"><circle cx="1008.5" cy="849.7" r="6.25"/><circle cx="1080.5" cy="852.6" r="6.25"/><circle cx="1152.5" cy="854.4" r="6.25"/><circle cx="1224.5" cy="857.2" r="6.25"/><circle cx="1296.5" cy="850.9" r="6.25"/><circle cx="1368.5" cy="852.6" r="6.25"/><circle cx="1440.5" cy="856.4" r="6.25"/><circle cx="1512.5" cy="852.9" r="6.25"/><circle cx="1584.5" cy="857.5" r="6.25"/></g>
<polyline points="1008.5,535.3 1080.5,534.2 1152.5,533.3 1224.5,534.5 1296.5,533.3 1368.5,534.2 1440.5,533.2 1512.5,532.8 1584.5,534.3 1656.5,533.3" fill="none" stroke="#e377c2" stroke-width="2.78" stroke-linejoin="round" stroke-linecap="butt"/>
<g fill="#e377c2"><circle cx="1008.5" cy="535.3" r="6.25"/><circle cx="1080.5" cy="534.2" r="6.25"/><circle cx="1152.5" cy="533.3" r="6.25"/><circle cx="1224.5" cy="534.5" r="6.25"/><circle cx="1296.5" cy="533.3" r="6.25"/><circle cx="1368.5" cy="534.2" r="6.25"/><circle cx="1440.5" cy="533.2" r="6.25"/><circle cx="1512.5" cy="532.8" r="6.25"/><circle cx="1584.5" cy="534.3" r="6.25"/><circle cx="1656.5" cy="533.3" r="6.25"/></g>
<polyline points="1008.5,531.5 1080.5,533.7 1152.5,532.8 1224.5,531.6 1296.5,532.6 1368.5,532.3 1440.5,533.2 1512.5,532.3 1584.5,532.6 1656.5,531.6" fill="none" stroke="#7f7f7f" stroke-width="2.78" stroke-linejoin="round" stroke-linecap="butt"/>
<g fill="#7f7f7f"><circle cx="1008.5" cy="531.5" r="6.25"/><circle cx="1080.5" cy="533.7" r="6.25"/><circle cx="1152.5" cy="532.8" r="6.25"/><circle cx="1224.5" cy="531.6" r="6.25"/><circle cx="1296.5" cy="532.6" r="6.25"/><circle cx="1368.5" cy="532.3" r="6.25"/><circle cx="1440.5" cy="533.2" r="6.25"/><circle cx="1512.5" cy="532.3" r="6.25"/><circle cx="1584.5" cy="532.6" r="6.25"/><circle cx="1656.5" cy="531.6" r="6.25"/></g>
<polyline points="1008.5,665.3 1080.5,670.4 1152.5,672 1224.5,669.2 1296.5,671.2 1368.5,673.2 1440.5,671.2 1512.5,669.5 1584.5,671.2 1656.5,668.3" fill="none" stroke="#bcbd22" stroke-width="2.78" stroke-linejoin="round" stroke-linecap="butt"/>
<g fill="#bcbd22"><circle cx="1008.5" cy="665.3" r="6.25"/><circle cx="1080.5" cy="670.4" r="6.25"/><circle cx="1152.5" cy="672" r="6.25"/><circle cx="1224.5" cy="669.2" r="6.25"/><circle cx="1296.5" cy="671.2" r="6.25"/><circle cx="1368.5" cy="673.2" r="6.25"/><circle cx="1440.5" cy="671.2" r="6.25"/><circle cx="1512.5" cy="669.5" r="6.25"/><circle cx="1584.5" cy="671.2" r="6.25"/><circle cx="1656.5" cy="668.3" r="6.25"/></g>
</g>
<rect x="975.5" y="515.5" width="713" height="359" fill="none" stroke="#000" stroke-width="1.11"/>
<rect x="1204.87" y="509.88" width="11.09" height="2.06" fill="#1e429f"/><rect x="1316.78" y="509.88" width="11.09" height="2.06" fill="#1e429f"/><rect x="1360.22" y="509.88" width="11.09" height="2.06" fill="#1e429f"/><g font-size="23.33" font-weight="bold" fill="#1e429f" stroke="#1e429f" stroke-width="0.55" stroke-linejoin="round"><text x="1156.87" y="506.7" textLength="47.84" lengthAdjust="spacingAndGlyphs">Avg</text><text x="1216.24" y="506.7" textLength="100.27" lengthAdjust="spacingAndGlyphs">Memory</text><text x="1327.33" y="506.7" textLength="32.85" lengthAdjust="spacingAndGlyphs">All</text><text x="1371.7" y="506.7" textLength="61.4" lengthAdjust="spacingAndGlyphs">Runs</text><text x="1449.18" y="506.7" textLength="58.02" lengthAdjust="spacingAndGlyphs">(MB)</text></g>
<rect x="1325.24" y="924.48" width="8.23" height="1.55" fill="#000"/><g font-size="17.5" font-weight="bold" fill="#000" stroke="#000" stroke-width="0.55" stroke-linejoin="round"><text x="1254.98" y="922.1" textLength="70.28" lengthAdjust="spacingAndGlyphs">Parallel</text><text x="1333.68" y="922.1" textLength="73.72" lengthAdjust="spacingAndGlyphs">Number</text></g>
<g transform="translate(905.9 823.3) rotate(-90)"><rect x="35.47" y="2.38" width="8.3" height="1.55" fill="#000"/><rect x="119.27" y="2.38" width="8.3" height="1.55" fill="#000"/><rect x="151.8" y="2.38" width="8.3" height="1.55" fill="#000"/><g font-size="17.5" font-weight="bold" fill="#000" stroke="#000" stroke-width="0.55" stroke-linejoin="round"><text x="-0.47" y="0" textLength="35.82" lengthAdjust="spacingAndGlyphs">Avg</text><text x="43.99" y="0" textLength="75.08" lengthAdjust="spacingAndGlyphs">Memory</text><text x="127.17" y="0" textLength="24.6" lengthAdjust="spacingAndGlyphs">All</text><text x="160.39" y="0" textLength="45.98" lengthAdjust="spacingAndGlyphs">Runs</text><text x="212.63" y="0" textLength="43.44" lengthAdjust="spacingAndGlyphs">(MB)</text></g></g>
</g>
<rect x="701.2" y="352.2" width="163.8" height="59.5" fill="#000" fill-opacity="0.65"/>
<g font-size="14.58" font-weight="normal" fill="#fff"><text x="708.17" y="369.8" textLength="32.6" lengthAdjust="spacingAndGlyphs">freq:</text><text x="745.81" y="369.8" textLength="7.82" lengthAdjust="spacingAndGlyphs">1</text><text x="758.93" y="369.8" textLength="25.81" lengthAdjust="spacingAndGlyphs">kHz</text></g>
<g font-size="14.58" font-weight="normal" fill="#fff"><text x="708.16" y="386.4" textLength="33.83" lengthAdjust="spacingAndGlyphs">topic</text><text x="747.07" y="386.4" textLength="30.82" lengthAdjust="spacingAndGlyphs">nun:</text><text x="782.98" y="386.4" textLength="7.81" lengthAdjust="spacingAndGlyphs">1</text></g>
<rect x="736.84" y="405.21" width="7.28" height="0.97" fill="#fff"/><g font-size="14.58" font-weight="normal" fill="#fff"><text x="707.37" y="402.9" textLength="29.34" lengthAdjust="spacingAndGlyphs">msg</text><text x="744.32" y="402.9" textLength="31.32" lengthAdjust="spacingAndGlyphs">size:</text><text x="780.69" y="402.9" textLength="35" lengthAdjust="spacingAndGlyphs">1024</text><text x="820.71" y="402.9" textLength="38.27" lengthAdjust="spacingAndGlyphs">bytes</text></g>
<rect x="1610.1" y="352.2" width="163.8" height="59.5" fill="#000" fill-opacity="0.65"/>
<g font-size="14.58" font-weight="normal" fill="#fff"><text x="1617.07" y="369.8" textLength="32.6" lengthAdjust="spacingAndGlyphs">freq:</text><text x="1654.71" y="369.8" textLength="7.82" lengthAdjust="spacingAndGlyphs">1</text><text x="1667.83" y="369.8" textLength="25.81" lengthAdjust="spacingAndGlyphs">kHz</text></g>
<g font-size="14.58" font-weight="normal" fill="#fff"><text x="1617.06" y="386.4" textLength="33.83" lengthAdjust="spacingAndGlyphs">topic</text><text x="1655.97" y="386.4" textLength="30.82" lengthAdjust="spacingAndGlyphs">nun:</text><text x="1691.88" y="386.4" textLength="7.81" lengthAdjust="spacingAndGlyphs">1</text></g>
<rect x="1645.74" y="405.21" width="7.28" height="0.97" fill="#fff"/><g font-size="14.58" font-weight="normal" fill="#fff"><text x="1616.27" y="402.9" textLength="29.34" lengthAdjust="spacingAndGlyphs">msg</text><text x="1653.22" y="402.9" textLength="31.32" lengthAdjust="spacingAndGlyphs">size:</text><text x="1689.59" y="402.9" textLength="35" lengthAdjust="spacingAndGlyphs">1024</text><text x="1729.61" y="402.9" textLength="38.27" lengthAdjust="spacingAndGlyphs">bytes</text></g>
<rect x="701.2" y="831.2" width="163.8" height="59.5" fill="#000" fill-opacity="0.65"/>
<g font-size="14.58" font-weight="normal" fill="#fff"><text x="708.17" y="848.8" textLength="32.6" lengthAdjust="spacingAndGlyphs">freq:</text><text x="745.81" y="848.8" textLength="7.82" lengthAdjust="spacingAndGlyphs">1</text><text x="758.93" y="848.8" textLength="25.81" lengthAdjust="spacingAndGlyphs">kHz</text></g>
<g font-size="14.58" font-weight="normal" fill="#fff"><text x="708.16" y="865.4" textLength="33.83" lengthAdjust="spacingAndGlyphs">topic</text><text x="747.07" y="865.4" textLength="30.82" lengthAdjust="spacingAndGlyphs">nun:</text><text x="782.98" y="865.4" textLength="7.81" lengthAdjust="spacingAndGlyphs">1</text></g>
<rect x="736.84" y="884.21" width="7.28" height="0.97" fill="#fff"/><g font-size="14.58" font-weight="normal" fill="#fff"><text x="707.37" y="881.9" textLength="29.34" lengthAdjust="spacingAndGlyphs">msg</text><text x="744.32" y="881.9" textLength="31.32" lengthAdjust="spacingAndGlyphs">size:</text><text x="780.69" y="881.9" textLength="35" lengthAdjust="spacingAndGlyphs">1024</text><text x="820.71" y="881.9" textLength="38.27" lengthAdjust="spacingAndGlyphs">bytes</text></g>
<rect x="1610.1" y="831.2" width="163.8" height="59.5" fill="#000" fill-opacity="0.65"/>
<g font-size="14.58" font-weight="normal" fill="#fff"><text x="1617.07" y="848.8" textLength="32.6" lengthAdjust="spacingAndGlyphs">freq:</text><text x="1654.71" y="848.8" textLength="7.82" lengthAdjust="spacingAndGlyphs">1</text><text x="1667.83" y="848.8" textLength="25.81" lengthAdjust="spacingAndGlyphs">kHz</text></g>
<g font-size="14.58" font-weight="normal" fill="#fff"><text x="1617.06" y="865.4" textLength="33.83" lengthAdjust="spacingAndGlyphs">topic</text><text x="1655.97" y="865.4" textLength="30.82" lengthAdjust="spacingAndGlyphs">nun:</text><text x="1691.88" y="865.4" textLength="7.81" lengthAdjust="spacingAndGlyphs">1</text></g>
<rect x="1645.74" y="884.21" width="7.28" height="0.97" fill="#fff"/><g font-size="14.58" font-weight="normal" fill="#fff"><text x="1616.27" y="881.9" textLength="29.34" lengthAdjust="spacingAndGlyphs">msg</text><text x="1653.22" y="881.9" textLength="31.32" lengthAdjust="spacingAndGlyphs">size:</text><text x="1689.59" y="881.9" textLength="35" lengthAdjust="spacingAndGlyphs">1024</text><text x="1729.61" y="881.9" textLength="38.27" lengthAdjust="spacingAndGlyphs">bytes</text></g>
<rect x="1787.5" y="341.5" width="333" height="253" rx="3.3" ry="3.3" fill="#fff" stroke="#cccccc" stroke-opacity="0.8" stroke-width="1.1"/>
<g font-size="20.41" font-weight="normal" fill="#000"><text x="1918.55" y="362.8" textLength="71.2" lengthAdjust="spacingAndGlyphs">Legend</text></g>
<path d="M1793.1 381.5H1829.0" stroke="#1f77b4" stroke-width="2.78"/>
<circle cx="1811.1" cy="381.5" r="6.25" fill="#1f77b4"/>
<rect x="2003.01" y="390.27" width="8.68" height="1.16" fill="#000"/><g font-size="17.5" font-weight="normal" fill="#000"><text x="1841.66" y="387.5" textLength="161.12" lengthAdjust="spacingAndGlyphs">Channel-Mqtt-Qos0</text><text x="2011.66" y="387.5" textLength="61.16" lengthAdjust="spacingAndGlyphs">Parallel</text></g>
<path d="M1793.1 406.12H1829.0" stroke="#ff7f0e" stroke-width="2.78"/>
<circle cx="1811.1" cy="406.12" r="6.25" fill="#ff7f0e"/>
<rect x="2003.01" y="414.89" width="8.68" height="1.16" fill="#000"/><g font-size="17.5" font-weight="normal" fill="#000"><text x="1841.66" y="412.12" textLength="160.87" lengthAdjust="spacingAndGlyphs">Channel-Mqtt-Qos1</text><text x="2011.66" y="412.12" textLength="61.16" lengthAdjust="spacingAndGlyphs">Parallel</text></g>
<path d="M1793.1 430.74H1829.0" stroke="#2ca02c" stroke-width="2.78"/>
<circle cx="1811.1" cy="430.74" r="6.25" fill="#2ca02c"/>
<rect x="2003.01" y="439.51" width="8.68" height="1.16" fill="#000"/><g font-size="17.5" font-weight="normal" fill="#000"><text x="1841.66" y="436.74" textLength="160.76" lengthAdjust="spacingAndGlyphs">Channel-Mqtt-Qos2</text><text x="2011.66" y="436.74" textLength="61.16" lengthAdjust="spacingAndGlyphs">Parallel</text></g>
<path d="M1793.1 455.36H1829.0" stroke="#d62728" stroke-width="2.78"/>
<circle cx="1811.1" cy="455.36" r="6.25" fill="#d62728"/>
<rect x="1987.8" y="464.13" width="8.68" height="1.16" fill="#000"/><g font-size="17.5" font-weight="normal" fill="#000"><text x="1841.65" y="461.36" textLength="146.19" lengthAdjust="spacingAndGlyphs">Channel-Net-Http</text><text x="1996.45" y="461.36" textLength="61.17" lengthAdjust="spacingAndGlyphs">Parallel</text></g>
<path d="M1793.1 479.98H1829.0" stroke="#9467bd" stroke-width="2.78"/>
<circle cx="1811.1" cy="479.98" r="6.25" fill="#9467bd"/>
<rect x="1978.29" y="488.75" width="8.48" height="1.16" fill="#000"/><g font-size="17.5" font-weight="normal" fill="#000"><text x="1841.69" y="485.98" textLength="136.63" lengthAdjust="spacingAndGlyphs">Channel-Net-Tcp</text><text x="1986.75" y="485.98" textLength="59.75" lengthAdjust="spacingAndGlyphs">Parallel</text></g>
<path d="M1793.1 504.6H1829.0" stroke="#8c564b" stroke-width="2.78"/>
<circle cx="1811.1" cy="504.6" r="6.25" fill="#8c564b"/>
<rect x="1984.65" y="513.37" width="8.66" height="1.16" fill="#000"/><g font-size="17.5" font-weight="normal" fill="#000"><text x="1841.67" y="510.6" textLength="143.01" lengthAdjust="spacingAndGlyphs">Channel-Net-Udp</text><text x="1993.29" y="510.6" textLength="61.04" lengthAdjust="spacingAndGlyphs">Parallel</text></g>
<path d="M1793.1 529.22H1829.0" stroke="#e377c2" stroke-width="2.78"/>
<circle cx="1811.1" cy="529.22" r="6.25" fill="#e377c2"/>
<rect x="2044.75" y="537.99" width="8.63" height="1.16" fill="#000"/><g font-size="17.5" font-weight="normal" fill="#000"><text x="1841.66" y="535.22" textLength="202.98" lengthAdjust="spacingAndGlyphs">Channel-Ros2-Besteffort</text><text x="2053.34" y="535.22" textLength="60.77" lengthAdjust="spacingAndGlyphs">Parallel</text></g>
<path d="M1793.1 553.84H1829.0" stroke="#7f7f7f" stroke-width="2.78"/>
<circle cx="1811.1" cy="553.84" r="6.25" fill="#7f7f7f"/>
<rect x="2029.35" y="562.61" width="8.64" height="1.16" fill="#000"/><g font-size="17.5" font-weight="normal" fill="#000"><text x="1841.68" y="559.84" textLength="187.76" lengthAdjust="spacingAndGlyphs">Channel-Ros2-Reliable</text><text x="2037.96" y="559.84" textLength="60.86" lengthAdjust="spacingAndGlyphs">Parallel</text></g>
<path d="M1793.1 578.46H1829.0" stroke="#bcbd22" stroke-width="2.78"/>
<circle cx="1811.1" cy="578.46" r="6.25" fill="#bcbd22"/>
<rect x="1968.84" y="587.23" width="8.65" height="1.16" fill="#000"/><g font-size="17.5" font-weight="normal" fill="#000"><text x="1841.66" y="584.46" textLength="127.12" lengthAdjust="spacingAndGlyphs">Channel-Zenoh</text><text x="1977.47" y="584.46" textLength="60.96" lengthAdjust="spacingAndGlyphs">Parallel</text></g>
</svg>
</body></html>
